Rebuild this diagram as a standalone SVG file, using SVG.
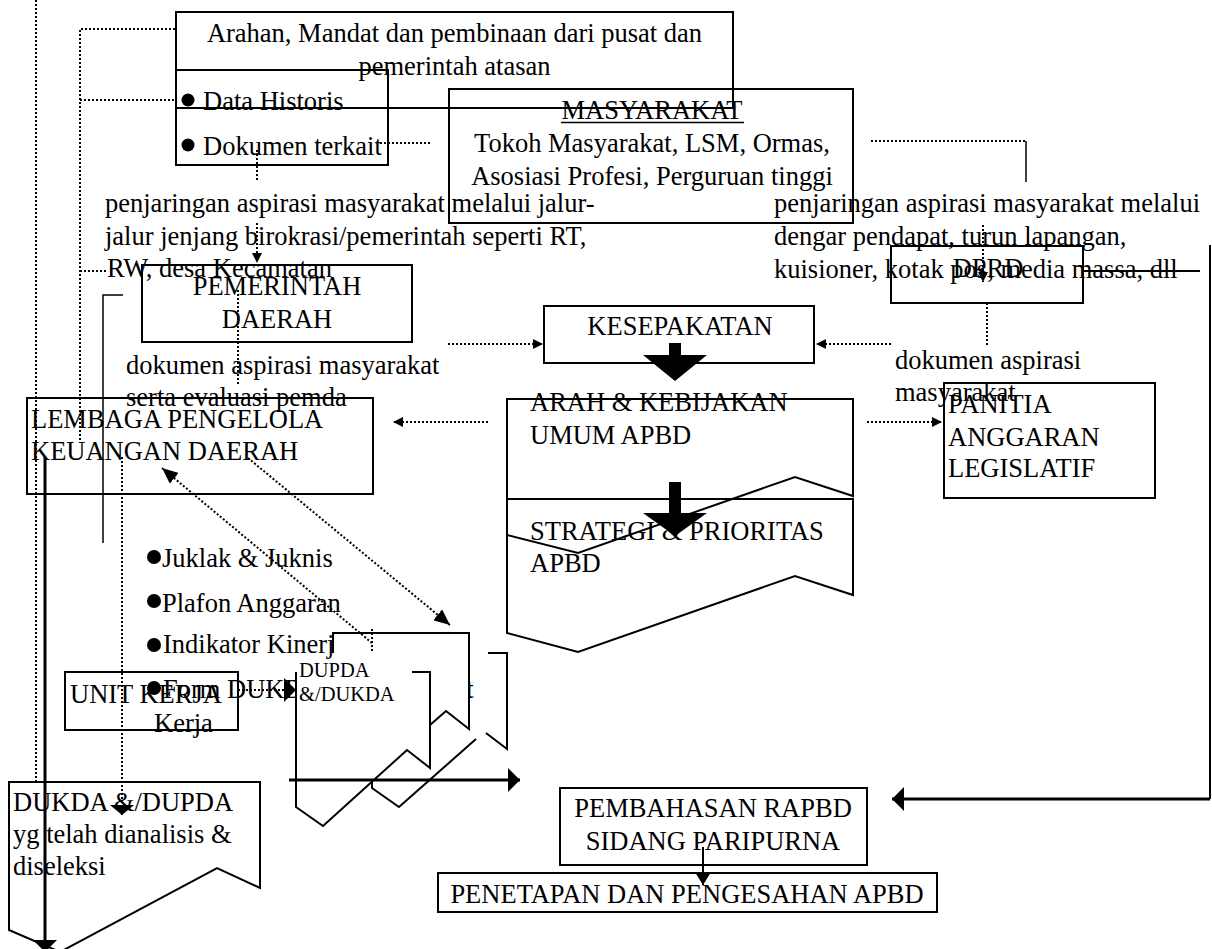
<svg xmlns="http://www.w3.org/2000/svg" width="1212" height="949" viewBox="0 0 1212 949">
<defs>
<style>
.t{font-family:"Liberation Serif","Times New Roman",serif;font-size:26.5px;fill:#000}
.ts{font-size:20.5px}
.m{text-anchor:middle}
.box{fill:none;stroke:#000;stroke-width:2}
.wf{fill:#fff;stroke:none}
.dot{fill:none;stroke:#000;stroke-width:2;stroke-dasharray:2 2}
.thin{fill:none;stroke:#000;stroke-width:1.5}
.thick{fill:none;stroke:#000;stroke-width:3}
.blk{fill:#000;stroke:none}
</style>
<marker id="mS" markerUnits="userSpaceOnUse" markerWidth="10" markerHeight="10" refX="10" refY="5" orient="auto"><path d="M0,0 L10,5 L0,10 z"/></marker>
<marker id="mW" markerUnits="userSpaceOnUse" markerWidth="10" markerHeight="24" refX="10" refY="12" orient="auto"><path d="M0,0 L10,12 L0,24 z"/></marker>
<marker id="mM" markerUnits="userSpaceOnUse" markerWidth="16" markerHeight="14" refX="16" refY="7" orient="auto"><path d="M0,0 L16,7 L0,14 z"/></marker>
<marker id="mL" markerUnits="userSpaceOnUse" markerWidth="12" markerHeight="24" refX="12" refY="12" orient="auto"><path d="M0,0 L12,12 L0,24 z"/></marker>
<marker id="mD" markerUnits="userSpaceOnUse" markerWidth="12" markerHeight="15" refX="12" refY="7.5" orient="auto"><path d="M0,0 L12,7.5 L0,15 z"/></marker>
</defs>
<rect width="1212" height="949" fill="#fff"/>

<g id="masyarakat">
<rect class="box" x="449" y="89" width="404" height="134"/>
<text class="t m" x="652" y="119">MASYARAKAT</text>
<line class="thin" x1="561" y1="122.5" x2="744" y2="122.5"/>
<text class="t m" x="652" y="152">Tokoh Masyarakat, LSM, Ormas,</text>
<text class="t m" x="652" y="185">Asosiasi Profesi, Perguruan tinggi</text>
</g>

<g id="arahan">
<rect class="box" x="176" y="12" width="557" height="96"/>
<text class="t m" x="454.5" y="42">Arahan, Mandat dan pembinaan dari pusat dan</text>
<text class="t m" x="454.5" y="75">pemerintah atasan</text>
</g>

<g id="data-historis">
<rect class="box" x="176" y="70" width="212" height="95"/>
<circle cx="188" cy="100" r="6.5"/>
<text class="t" x="203" y="110">Data Historis</text>
<circle cx="188" cy="145" r="6.5"/>
<text class="t" x="203" y="155">Dokumen terkait</text>
</g>

<g id="label-jalur">
<text class="t" x="105" y="212">penjaringan aspirasi masyarakat melalui jalur-</text>
<text class="t" x="105" y="245">jalur jenjang birokrasi/pemerintah seperti RT,</text>
<text class="t" x="107" y="277">RW, desa Kecamatan</text>
</g>

<g id="label-dengar">
<text class="t" x="774" y="212">penjaringan aspirasi masyarakat melalui</text>
<text class="t" x="774" y="245">dengar pendapat, turun lapangan,</text>
<text class="t" x="774" y="278">kuisioner, kotak pos, media massa, dll</text>
</g>

<g id="pemda">
<rect class="box" x="142" y="265" width="270" height="77"/>
<text class="t m" x="277" y="295">PEMERINTAH</text>
<text class="t m" x="277" y="328">DAERAH</text>
</g>

<g id="dprd">
<rect class="box" x="891" y="246" width="192" height="57"/>
<text class="t m" x="988" y="277">DPRD</text>
</g>

<g id="kesepakatan">
<rect class="box" x="544" y="306" width="270" height="57"/>
<text class="t m" x="680" y="335">KESEPAKATAN</text>
</g>

<g id="label-dok-pemda">
<text class="t" x="126" y="374">dokumen aspirasi masyarakat</text>
<text class="t" x="126" y="406">serta evaluasi pemda</text>
</g>

<g id="label-dok-dprd">
<text class="t" x="895" y="369">dokumen aspirasi</text>
<text class="t" x="895" y="401">masyarakat</text>
</g>

<g id="lembaga">
<rect class="box" x="27" y="398" width="346" height="96"/>
<text class="t" x="31" y="428">LEMBAGA PENGELOLA</text>
<text class="t" x="31" y="460">KEUANGAN DAERAH</text>
</g>

<g id="arah">
<path class="box" d="M507,399 H853 V496 L795,477 L578,553 L507,535 Z"/>
<text class="t" x="530" y="411">ARAH &amp; KEBIJAKAN</text>
<text class="t" x="530" y="444">UMUM APBD</text>
</g>

<g id="strategi">
<path class="box" d="M507,499 H853 V595 L795,576 L578,652 L507,633 Z"/>
<text class="t" x="530" y="540">STRATEGI &amp; PRIORITAS</text>
<text class="t" x="530" y="572">APBD</text>
</g>

<g id="panitia">
<rect class="box" x="944" y="383" width="211" height="115"/>
<text class="t" x="948" y="413">PANITIA</text>
<text class="t" x="948" y="446">ANGGARAN</text>
<text class="t" x="948" y="477">LEGISLATIF</text>
</g>

<g id="unit-kerja">
<rect class="box" x="65" y="672" width="173" height="58"/>
<text class="t" x="70" y="703">UNIT KERJA</text>
</g>

<g id="daftar">
<circle cx="154" cy="557" r="7"/>
<text class="t" x="162" y="567">Juklak &amp; Juknis</text>
<circle cx="154" cy="601" r="7"/>
<text class="t" x="162" y="612">Plafon Anggaran</text>
<circle cx="154" cy="645" r="7"/>
<text class="t" x="163" y="653">Indikator Kinerja</text>
<circle cx="154" cy="688" r="7"/>
<text class="t" x="163" y="698">Form DUKDA/DUPDA Unit</text>
<text class="t" x="154" y="732">Kerja</text>
</g>

<g id="dupda-c">
<path class="box" d="M488,653 H507 V749 L486,733"/>
<path class="box" d="M476,739 L399,807 L372,788 V781"/>
</g>

<g id="dupda-b">
<path class="wf" d="M333,633 H469 V729 L446,711 L360,787 L333,768 Z"/>
<path class="box" d="M333,653 V633 H469 V729 L446,711 L430,725"/>
</g>

<g id="dupda-a">
<path class="wf" d="M296,672 H430 V768 L407,750 L323,826 L296,807 Z"/>
<path class="box" d="M412,672 H430 V768 L407,750 L323,826 L296,807 V672"/>
<text class="t ts" x="299" y="677">DUPDA</text>
<text class="t ts" x="299" y="701">&amp;/DUKDA</text>
</g>

<g id="dukda">
<path class="box" d="M9,782 H260 V888 L217,868 L60,952 L9,930 Z"/>
<text class="t" x="13" y="811">DUKDA &amp;/DUPDA</text>
<text class="t" x="13" y="843">yg telah dianalisis &amp;</text>
<text class="t" x="13" y="875">diseleksi</text>
</g>

<g id="pembahasan">
<rect class="box" x="560" y="788" width="307" height="77"/>
<text class="t m" x="713" y="817">PEMBAHASAN RAPBD</text>
<text class="t m" x="713" y="850">SIDANG PARIPURNA</text>
</g>

<g id="penetapan">
<rect class="box" x="438" y="873" width="499" height="39"/>
<text class="t m" x="687" y="903">PENETAPAN DAN PENGESAHAN APBD</text>
</g>

<g id="connectors">
<path class="dot" d="M36,0 V782"/>
<path class="dot" d="M175,29 H80 V443"/>
<path class="dot" d="M80,100 H175"/>
<path class="dot" d="M80,271 H107"/>
<path class="dot" d="M380,143 H431"/>
<path class="dot" d="M257,150 V182"/>
<path class="dot" d="M257,223 V263" marker-end="url(#mS)"/>
<path class="dot" d="M238,290 V385"/>
<path class="thin" d="M123,295 H103 V543"/>
<path class="dot" d="M871,141 H1026"/>
<path class="thin" d="M1026,141 V182"/>
<path class="dot" d="M983,225 V282" marker-end="url(#mS)"/>
<path class="dot" d="M987,303 V347"/>
<path class="dot" d="M891,344 H816" marker-end="url(#mS)"/>
<path class="dot" d="M448,344 H543" marker-end="url(#mS)"/>
<path class="dot" d="M488,422 H393" marker-end="url(#mS)"/>
<path class="dot" d="M867,422 H942" marker-end="url(#mS)"/>
<path class="dot" d="M372,643 L162,468" marker-end="url(#mM)"/>
<path class="dot" d="M248,458 L450,625" marker-end="url(#mM)"/>
<path class="dot" d="M372,629 V652"/>
<path class="dot" d="M122,457 V815" marker-end="url(#mW)"/>
<path class="dot" d="M238,690 H296" marker-end="url(#mL)"/>
<path class="thick" d="M45,457 V952" marker-end="url(#mL)"/>
<path class="thick" d="M289,780 H520" marker-end="url(#mL)"/>
<path class="box" d="M1083,271 H1200"/>
<path class="box" d="M1210,245 V799"/>
<path class="thick" d="M1210,799 H892" marker-end="url(#mL)"/>
<path class="box" d="M703,847 V885" marker-end="url(#mD)"/>
<polygon class="blk" points="669,343 681,343 681,355 707,355 675,381 643,355 669,355"/>
<polygon class="blk" points="669,482 681,482 681,513 707,513 675,536 643,513 669,513"/>
</g>
</svg>
